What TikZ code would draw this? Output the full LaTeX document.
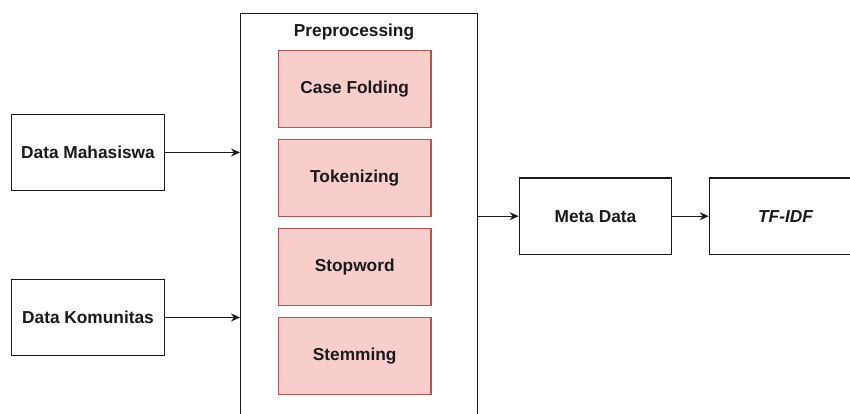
\documentclass[tikz,border=0pt]{standalone}
\usepackage{fontspec}
\setmainfont{Liberation Sans}
\usetikzlibrary{arrows.meta}
\definecolor{pinkfill}{HTML}{F8CECC}
\definecolor{pinkline}{HTML}{B85450}
\definecolor{inkc}{HTML}{1A1A1A}
\begin{document}
\begin{tikzpicture}[x=1pt,y=-1pt,
  lbl/.style={font=\fontsize{17.3}{20}\selectfont\bfseries, text=inkc},
  box/.style={lbl, draw=inkc, line width=1.1pt, minimum width=152.6pt, minimum height=76.4pt, inner sep=0pt},
  stepbox/.style={box, fill=pinkfill, draw=pinkline},
  arr/.style={-{Stealth[length=9pt,width=8pt]}, line width=1.1pt, draw=inkc}]
\useasboundingbox (0,0) rectangle (850,414);
\clip (0,0) rectangle (850,414);
\fill[white] (0,0) rectangle (850,414);

% container
\node[draw=inkc, line width=1.1pt, minimum width=236.7pt, minimum height=430pt,
      anchor=north west, inner sep=0pt] (container) at (240,12.7) {};
\node[lbl] (title) at (354,32) {Preprocessing};

% steps
\node[stepbox] (cf) at (354.7,89) {Case Folding};
\node[stepbox] (tok) at (354.7,178) {Tokenizing};
\node[stepbox] (sw) at (354.7,267) {Stopword};
\node[stepbox] (stem) at (354.7,356) {Stemming};

% sources
\node[box] (dm) at (88,152.5) {Data Mahasiswa};
\node[box] (dk) at (88,317.5) {Data Komunitas};

% outputs
\node[box] (meta) at (595.5,216.2) {Meta Data};
\node[box, font=\fontsize{17.3}{20}\selectfont\bfseries\itshape] (tfidf) at (785.5,216.2) {TF-IDF};

% connectors
\draw[arr] (dm.east) -- (dm.east -| container.west);
\draw[arr] (dk.east) -- (dk.east -| container.west);
\draw[arr] (meta.west -| container.east) -- (meta.west);
\draw[arr] (meta.east) -- (tfidf.west);
\end{tikzpicture}
\end{document}
